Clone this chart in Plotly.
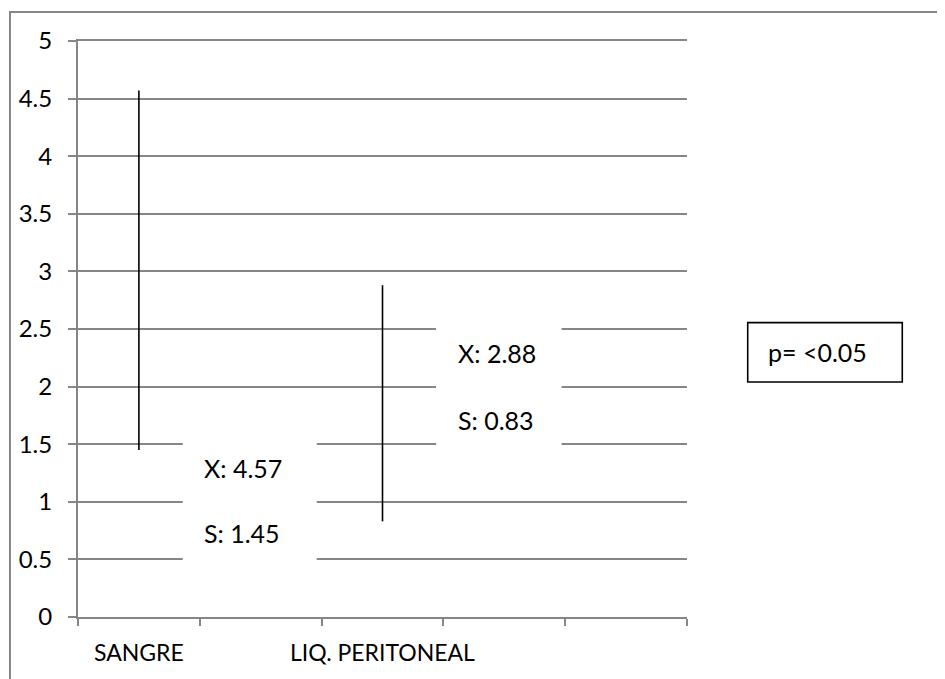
import plotly.graph_objects as go

categories = ["SANGRE", "", "LIQ. PERITONEAL", "", ""]
high_values = [4.57, None, 2.88, None, None]
low_values = [1.45, None, 0.83, None, None]
mean_labels = ["X: 4.57", None, "X: 2.88", None, None]
sd_labels = ["S: 1.45", None, "S: 0.83", None, None]
y_ticks = [0, 0.5, 1, 1.5, 2, 2.5, 3, 3.5, 4, 4.5, 5]
p_text = "p= <0.05"

GRID = "#868686"
FONT = "Lato"

fig = go.Figure()

for i, cat in enumerate(categories):
    if high_values[i] is None:
        continue
    fig.add_trace(go.Scatter(
        x=[i, i], y=[low_values[i], high_values[i]],
        mode="lines", line=dict(color="black", width=1.6),
        showlegend=False, hoverinfo="skip"))

# white text boxes (cover gridlines) + labels
boxes = {0: (0.36, 1.46, 0.38, 1.62, 1.29, 0.73, 0.52),
         2: (2.44, 3.47, 1.40, 2.62, 2.29, 1.71, 2.60)}
shapes = []
annotations = []
for i, (x0, x1, y0, y1, ym, ys, xt) in boxes.items():
    shapes.append(dict(type="rect", xref="x", yref="y", x0=x0, x1=x1, y0=y0, y1=y1,
                       fillcolor="white", line=dict(width=0), layer="above"))
    annotations.append(dict(x=xt, y=ym, xref="x", yref="y", text=mean_labels[i],
                            showarrow=False, xanchor="left", yanchor="middle",
                            font=dict(family=FONT, size=25, color="black")))
    annotations.append(dict(x=xt, y=ys, xref="x", yref="y", text=sd_labels[i],
                            showarrow=False, xanchor="left", yanchor="middle",
                            font=dict(family=FONT, size=25, color="black")))

# p-value box
shapes.append(dict(type="rect", xref="paper", yref="paper", x0=1.0997, x1=1.3535,
                   y0=0.408, y1=0.511, fillcolor="white",
                   line=dict(color="black", width=1.6), layer="above"))
annotations.append(dict(x=1.130, y=0.460, xref="paper", yref="paper", text=p_text,
                        showarrow=False, xanchor="left", yanchor="middle",
                        font=dict(family=FONT, size=25, color="black")))

# outer chart border
shapes.append(dict(type="rect", xref="paper", yref="paper", x0=-0.1117, x1=2.0,
                   y0=-1.0, y1=1.0503, line=dict(color=GRID, width=2), layer="above"))

fig.update_layout(
    width=945, height=679,
    margin=dict(l=70, r=266, t=33, b=70),
    paper_bgcolor="white", plot_bgcolor="white",
    font=dict(family=FONT, size=22, color="black"),
    shapes=shapes, annotations=annotations,
    xaxis=dict(range=[-0.5, 4.5], tickmode="array",
               tickvals=[i for i, c in enumerate(categories) if c],
               ticktext=[c for c in categories if c],
               ticks="", showgrid=False, zeroline=False, automargin=False,
               showline=True, mirror=True, linecolor=GRID, linewidth=2,
               ticklabelstandoff=14,
               tickfont=dict(family=FONT, size=23),
               minor=dict(tickvals=[k - 0.5 for k in range(len(categories) + 1)],
                          ticks="outside", ticklen=7, tickcolor=GRID, tickwidth=2,
                          showgrid=False)),
    yaxis=dict(range=[0, 5], tickmode="array", tickvals=y_ticks,
               ticktext=[f"{v:g}" for v in y_ticks], automargin=False,
               showgrid=True, gridcolor=GRID, gridwidth=2,
               zeroline=False, showline=True, linecolor=GRID, linewidth=2,
               ticks="outside", ticklen=8, tickcolor=GRID, tickwidth=2,
               ticklabelstandoff=11,
               tickfont=dict(family=FONT, size=24)),
)

fig.write_html("out.html")
